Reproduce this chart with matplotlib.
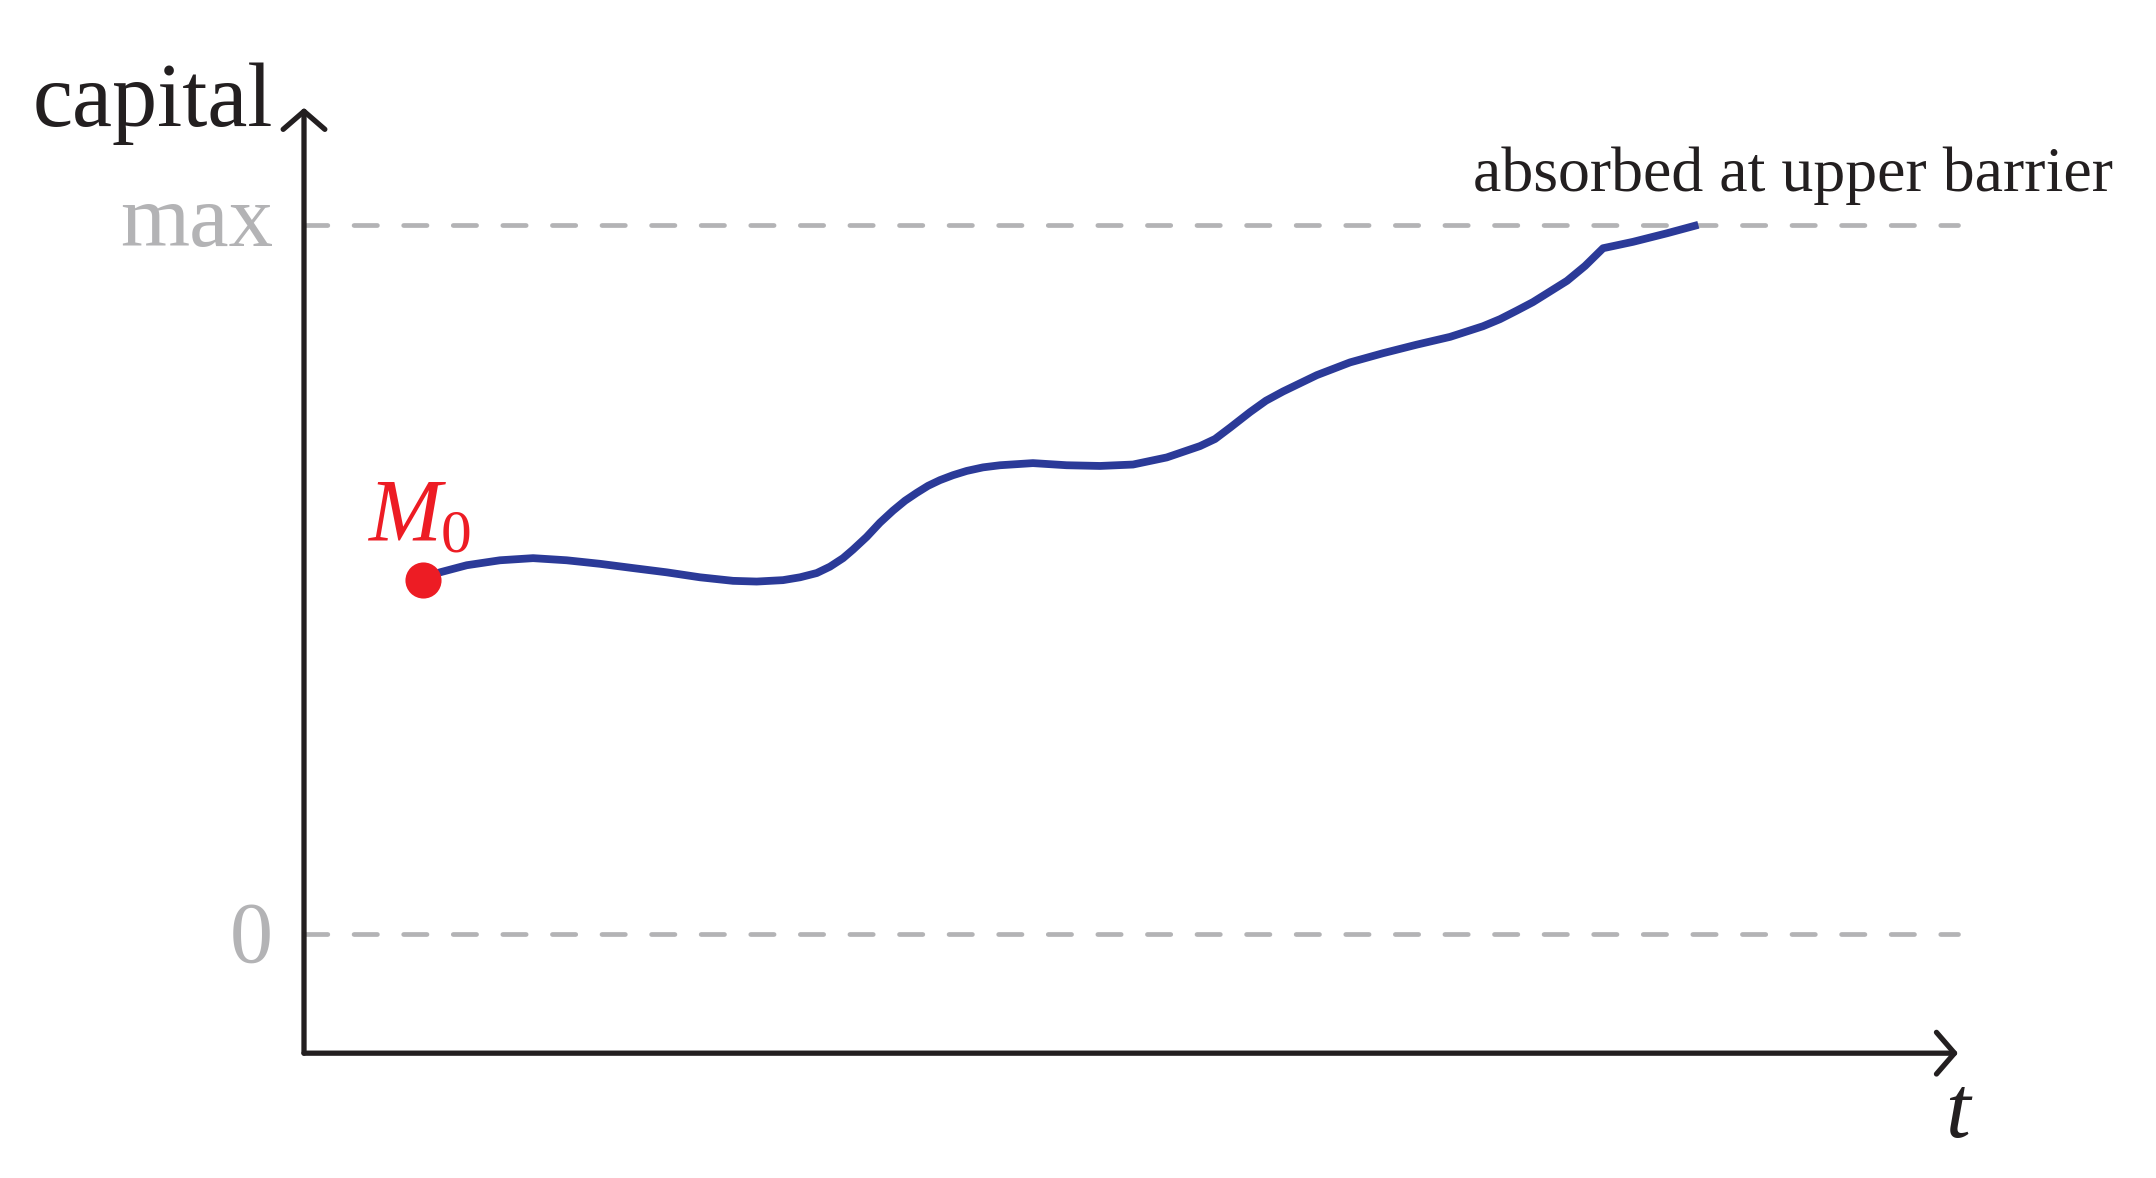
import matplotlib
matplotlib.use("Agg")
import matplotlib.pyplot as plt

# ---- data (t, capital); capital 0 = ruin, 1 = max ----
t_path = [0.718, 0.822, 0.984, 1.185, 1.385, 1.588, 1.790, 1.989, 2.193, 2.394,
          2.594, 2.737, 2.896, 2.999, 3.100, 3.180, 3.259, 3.319, 3.402, 3.482,
          3.561, 3.634, 3.704, 3.773, 3.845, 3.924, 4.007, 4.105, 4.208, 4.407,
          4.611, 4.813, 5.012, 5.216, 5.417, 5.508, 5.599, 5.720, 5.816, 5.919,
          6.123, 6.324, 6.524, 6.727, 6.929, 7.128, 7.231, 7.332, 7.430, 7.533,
          7.636, 7.745, 7.854, 8.035, 8.239, 8.430]
capital_path = [0.499, 0.510, 0.520, 0.527, 0.530, 0.527, 0.522, 0.516, 0.510, 0.503,
                0.498, 0.497, 0.499, 0.503, 0.509, 0.518, 0.530, 0.542, 0.560, 0.580,
                0.597, 0.611, 0.622, 0.632, 0.640, 0.647, 0.653, 0.658, 0.661, 0.664,
                0.661, 0.660, 0.662, 0.672, 0.688, 0.698, 0.714, 0.736, 0.752, 0.765,
                0.788, 0.806, 0.819, 0.831, 0.842, 0.857, 0.867, 0.879, 0.891, 0.906,
                0.921, 0.942, 0.967, 0.976, 0.988, 1.000]
barrier_levels = [0.0, 1.0]
barrier_labels = ["0", "max"]
t_end = 10.0
axis_bottom = -0.168
axis_top = 1.165

BLUE = "#2B3A98"
RED = "#ED1C24"
GRAY = "#B3B3B5"
INK = "#231F20"

plt.rcParams["font.family"] = ["Liberation Serif", "DejaVu Serif"]
plt.rcParams["mathtext.fontset"] = "custom"
plt.rcParams["mathtext.rm"] = "Liberation Serif"
plt.rcParams["mathtext.it"] = "Liberation Serif:italic"
plt.rcParams["lines.scale_dashes"] = False

fig = plt.figure(figsize=(21.56, 11.78), dpi=100)
ax = fig.add_axes([0, 0, 1, 1])
ax.set_xlim(-1.838, 11.197)
ax.set_ylim(-0.344, 1.317)
ax.axis("off")

# barriers
for lvl in barrier_levels:
    ln, = ax.plot([0, t_end], [lvl, lvl], color=GRAY, lw=3.4,
                  solid_capstyle="round", dash_capstyle="round")
    ln.set_dashes((16.8, 18.9))
ax.text(-0.187, 0.970, barrier_labels[1], ha="right", va="baseline",
        fontsize=64, color=GRAY)
ax.text(-0.187, -0.039, barrier_labels[0], ha="right", va="baseline",
        fontsize=62, color=GRAY)

# axes with arrows
arrow = dict(arrowstyle="->,head_length=13,head_width=15", mutation_scale=1,
             lw=3.8, color=INK, shrinkA=0, shrinkB=0, capstyle="round",
             joinstyle="round")
ax.annotate("", xy=(0, axis_top), xytext=(0, axis_bottom), arrowprops=arrow)
ax.annotate("", xy=(t_end, axis_bottom), xytext=(0, axis_bottom), arrowprops=arrow)
ax.text(-0.187, 1.139, "capital", ha="right", va="baseline", fontsize=65, color=INK)
ax.text(10.006, -0.286, r"$t$", ha="center", va="baseline", fontsize=64, color=INK)

# path
ax.plot(t_path, capital_path, color=BLUE, lw=5.6, solid_capstyle="butt",
        solid_joinstyle="round")
ax.plot([t_path[0]], [capital_path[0]], "o", color=RED, markersize=26, mew=0)
ax.text(0.381, 0.557, r"$M_0$", ha="left", va="baseline", fontsize=63, color=RED)
ax.text(9.005, 1.048, "absorbed at upper barrier", ha="center", va="baseline",
        fontsize=46, color=INK)

fig.savefig("out.png", dpi=100)
